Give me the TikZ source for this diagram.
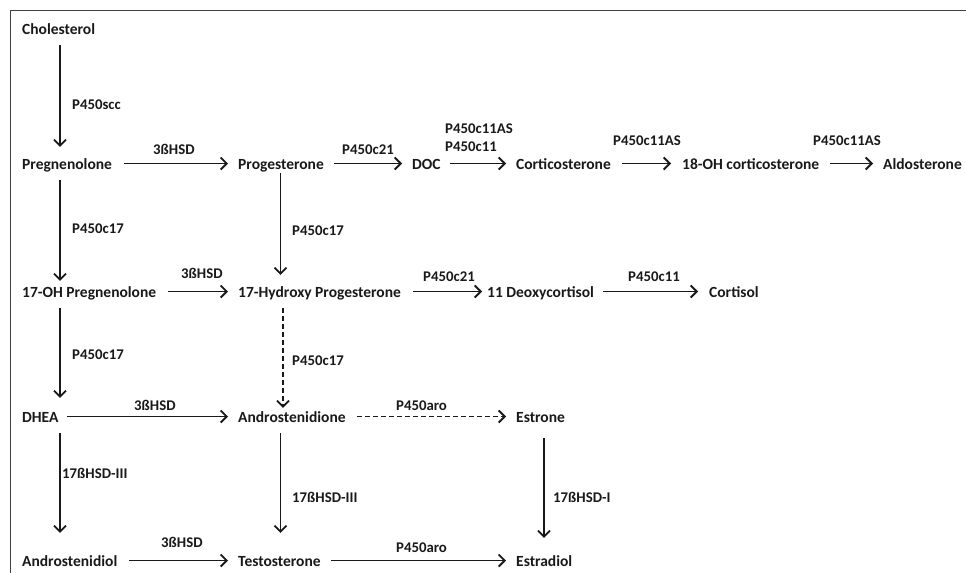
\documentclass[tikz,border=0pt]{standalone}
\usepackage{fontspec}
\setmainfont{Carlito}
\usetikzlibrary{arrows.meta}
\begin{document}
\begin{tikzpicture}[x=1pt,y=-1pt,
  comp/.style={inner sep=0pt,anchor=base west,text height=11pt,text depth=0pt,text=black!90,font=\fontsize{15.5}{18}\selectfont\bfseries},
  enz/.style={inner sep=0pt,anchor=base west,text=black!90,font=\fontsize{14.8}{17}\selectfont\bfseries},
  arr/.style={line width=1.8pt,draw=black!90,-{Straight Barb[length=6pt,width=12pt,line width=1.8pt]}},
  darr/.style={arr,dash pattern=on 5pt off 3pt},
  frame/.style={draw=black!75,line width=1pt}]
\useasboundingbox (0,0) rectangle (966,573);
\draw[frame] (10,573) -- (10,10) -- (966,10);
% column coordinates
\coordinate (cA) at (60,0);
\coordinate (cB) at (280.5,0);
\coordinate (cBd) at (283,0);
\coordinate (cD) at (544,0);
% compounds
\node[comp] (chol) at (22,34) {Cholesterol};
\node[comp] (preg) at (22,169) {Pregnenolone};
\node[comp] (prog) at (238,169) {Progesterone};
\node[comp] (doc) at (412,169) {DOC};
\node[comp] (cort) at (516,169) {Corticosterone};
\node[comp] (ohc) at (682,169) {18-OH corticosterone};
\node[comp] (aldo) at (883,169) {Aldosterone};
\node[comp] (ohp) at (22,297) {17-OH Pregnenolone};
\node[comp] (hprog) at (238,297) {17-Hydroxy Progesterone};
\node[comp] (deoxy) at (487,297) {11 Deoxycortisol};
\node[comp] (cortisol) at (709,297) {Cortisol};
\node[comp] (dhea) at (22,422) {DHEA};
\node[comp] (andro) at (238,422) {Androstenidione};
\node[comp] (estrone) at (516,422) {Estrone};
\node[comp] (androl) at (22,566) {Androstenidiol};
\node[comp] (testo) at (238,566) {Testosterone};
\node[comp] (estradiol) at (516,566) {Estradiol};
% enzymes
\node[enz] (e1) at (72,109) {P450scc};
\node[enz] (e2) at (153,154) {3ßHSD};
\node[enz] (e3) at (342,154) {P450c21};
\node[enz] (e4a) at (445,133) {P450c11AS};
\node[enz] (e4b) at (445,151) {P450c11};
\node[enz] (e5) at (613,145) {P450c11AS};
\node[enz] (e6) at (813,145) {P450c11AS};
\node[enz] (e7) at (72,233) {P450c17};
\node[enz] (e8) at (292,235) {P450c17};
\node[enz] (e9) at (181,278) {3ßHSD};
\node[enz] (e10) at (423,281) {P450c21};
\node[enz] (e11) at (628,281) {P450c11};
\node[enz] (e12) at (72,359) {P450c17};
\node[enz] (e13) at (292,365) {P450c17};
\node[enz] (e14) at (134,410) {3ßHSD};
\node[enz] (e15) at (396,410) {P450aro};
\node[enz] (e16) at (62,478) {17ßHSD-III};
\node[enz] (e17) at (292,502) {17ßHSD-III};
\node[enz] (e18) at (553,502) {17ßHSD-I};
\node[enz] (e19) at (161,547) {3ßHSD};
\node[enz] (e20) at (396,552) {P450aro};
% horizontal arrows
\draw[arr] ([xshift=12pt]preg.east) -- ([xshift=-10pt]prog.west);
\draw[arr] ([xshift=10pt]prog.east) -- ([xshift=-10pt]doc.west);
\draw[arr] ([xshift=9pt]doc.east) -- ([xshift=-10pt]cort.west);
\draw[arr] ([xshift=11pt]cort.east) -- ([xshift=-11pt]ohc.west);
\draw[arr] ([xshift=11pt]ohc.east) -- ([xshift=-10pt]aldo.west);
\draw[arr] ([xshift=12pt]ohp.east) -- ([xshift=-10pt]hprog.west);
\draw[arr] ([xshift=12pt]hprog.east) -- ([xshift=-5pt]deoxy.west);
\draw[arr] ([xshift=9pt]deoxy.east) -- ([xshift=-11pt]cortisol.west);
\draw[arr] ([xshift=8pt]dhea.east) -- ([xshift=-10pt]andro.west);
\draw[darr] ([xshift=11pt]andro.east) -- ([xshift=-10pt]estrone.west);
\draw[arr] ([xshift=12pt]androl.east) -- ([xshift=-10pt]testo.west);
\draw[arr] ([xshift=10pt]testo.east) -- ([xshift=-10pt]estradiol.west);
% vertical arrows
\draw[arr] ([yshift=-11pt]chol.south -| cA) -- ([yshift=11pt]preg.north -| cA);
\draw[arr] ([yshift=-11pt]preg.south -| cA) -- ([yshift=5pt]ohp.north -| cA);
\draw[arr] ([yshift=-11pt]ohp.south -| cA) -- ([yshift=13pt]dhea.north -| cA);
\draw[arr] ([yshift=-11pt]dhea.south -| cA) -- ([yshift=22pt]androl.north -| cA);
\draw[arr] ([yshift=-4pt]prog.south -| cB) -- ([yshift=11pt]hprog.north -| cB);
\draw[darr] ([yshift=-11pt]hprog.south -| cBd) -- ([yshift=3pt]andro.north -| cBd);
\draw[arr] ([yshift=-11pt]andro.south -| cB) -- ([yshift=22pt]testo.north -| cB);
\draw[arr] ([yshift=-16pt]estrone.south -| cD) -- ([yshift=17pt]estradiol.north -| cD);
\end{tikzpicture}
\end{document}
